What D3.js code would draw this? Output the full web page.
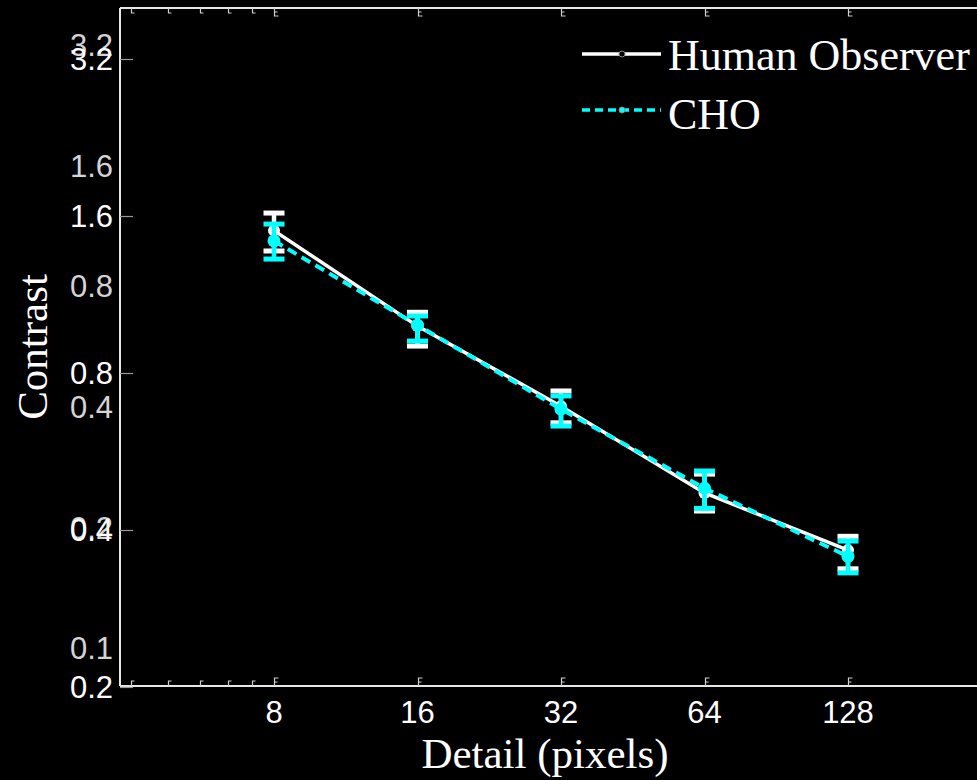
<!DOCTYPE html>
<html>
<head>
<meta charset="utf-8">
<script src="https://cdn.jsdelivr.net/npm/d3@7"></script>
<style>
  html, body { margin: 0; padding: 0; background: #000; }
  svg { display: block; }
</style>
</head>
<body>
<div id="chart"></div>
<script>
// ---- data ----
const detail = [8, 16, 32, 64, 128];
const humanMean = [1.50, 0.984, 0.691, 0.471, 0.366];
const humanLow  = [1.371, 0.901, 0.642, 0.435, 0.337];
const humanHigh = [1.621, 1.046, 0.739, 0.512, 0.389];
const choMean = [1.433, 0.988, 0.682, 0.481, 0.356];
const choLow  = [1.323, 0.921, 0.633, 0.440, 0.331];
const choHigh = [1.544, 1.029, 0.723, 0.519, 0.381];
const yTickValues = [3.2, 1.6, 0.8, 0.4, 0.2];
const yGhostTickValues = [3.2, 1.6, 0.8, 0.4, 0.2, 0.1];
const xTickValues = [8, 16, 32, 64, 128];
const xMinorTickValues = [4, 4.8, 5.6, 6.4, 7.2];
const seriesNames = ["Human Observer", "CHO"];

(function () {
const W = 977, H = 780;
const mLeft = 120, mTop = 8, mBottom = 686, mRight = 990;

const svg = d3.select("#chart").append("svg")
  .attr("width", W).attr("height", H)
  .style("background", "#000");

const x = d3.scaleLog().base(2).domain([8, 128]).range([274, 848]);
const y = d3.scaleLog().base(2).domain([0.2, 3.2]).range([687, 59]);
const yGhost = d3.scaleLog().base(2).domain([0.1, 3.2]).range([648, 45]);

// axes box lines
const axisColor = "#e6e6e6";
svg.append("line").attr("x1", mLeft).attr("x2", mRight).attr("y1", mTop).attr("y2", mTop)
  .attr("stroke", axisColor).attr("stroke-width", 2);
svg.append("line").attr("x1", mLeft).attr("x2", mRight).attr("y1", mBottom).attr("y2", mBottom)
  .attr("stroke", axisColor).attr("stroke-width", 2);
svg.append("line").attr("x1", mLeft).attr("x2", mLeft).attr("y1", mTop).attr("y2", mBottom)
  .attr("stroke", axisColor).attr("stroke-width", 2);

// x ticks (bottom and top), small odd-shaped marks
const tickColor = "#d0d0d0";
const tk = svg.append("g").attr("stroke", tickColor).attr("stroke-width", 1.2).attr("fill", "none");
xMinorTickValues.forEach(v => {
  const px = Math.round(x(v)) + 0.5;
  tk.append("path").attr("d", `M${px},${mBottom} V${mBottom - 5} H${px + 3}`);
  tk.append("path").attr("d", `M${px},${mTop} V${mTop + 5} H${px + 3}`);
});
xTickValues.forEach(v => {
  const px = Math.round(x(v)) + 0.5;
  tk.append("path").attr("d", `M${px},${mBottom} V${mBottom - 8} H${px + 4} M${px},${mBottom - 4} H${px + 3}`);
  tk.append("path").attr("d", `M${px},${mTop} V${mTop + 8} H${px + 4} M${px},${mTop + 4} H${px + 3}`);
});

// y ticks
yTickValues.forEach(v => {
  const py = Math.round(y(v)) + 0.5;
  tk.append("line").attr("x1", mLeft).attr("x2", mLeft + 13).attr("y1", py).attr("y2", py)
    .attr("stroke", "#9a9a9a");
});

// x tick labels
const sansFont = "Arial, 'Liberation Sans', sans-serif";
svg.append("g").selectAll("text").data(xTickValues).join("text")
  .attr("x", d => x(d)).attr("y", 723)
  .attr("text-anchor", "middle")
  .attr("fill", "#fff").attr("font-family", sansFont).attr("font-size", 31)
  .text(d => d);

// ghost y tick labels (second overlaid axis)
svg.append("g").selectAll("text").data(yGhostTickValues).join("text")
  .attr("x", 113).attr("y", d => yGhost(d)).attr("dy", "0.36em")
  .attr("text-anchor", "end")
  .attr("fill", "#d4d4d4").attr("font-family", sansFont).attr("font-size", 31)
  .text(d => d);

// main y tick labels
svg.append("g").selectAll("text").data(yTickValues).join("text")
  .attr("x", 113).attr("y", d => y(d)).attr("dy", "0.36em")
  .attr("text-anchor", "end")
  .attr("fill", "#fff").attr("font-family", sansFont).attr("font-size", 31)
  .text(d => d);

// axis titles
const serifFont = "'Times New Roman', 'Liberation Serif', 'DejaVu Serif', serif";
svg.append("text").attr("x", 545).attr("y", 768).attr("text-anchor", "middle")
  .attr("fill", "#fff").attr("font-family", serifFont).attr("font-size", 43)
  .text("Detail (pixels)");
svg.append("text").attr("transform", "translate(47,347) rotate(-90)").attr("text-anchor", "middle")
  .attr("fill", "#fff").attr("font-family", serifFont).attr("font-size", 43)
  .text("Contrast");

// series
const humanData = detail.map((d, i) => ({x: d, m: humanMean[i], lo: humanLow[i], hi: humanHigh[i]}));
const choData = detail.map((d, i) => ({x: d, m: choMean[i], lo: choLow[i], hi: choHigh[i]}));
const line = d3.line().x(d => x(d.x)).y(d => y(d.m));

function errorBars(data, color) {
  const g = svg.append("g").attr("stroke", color);
  data.forEach(d => {
    const cx = x(d.x);
    g.append("line").attr("x1", cx).attr("x2", cx).attr("y1", y(d.hi)).attr("y2", y(d.lo))
      .attr("stroke-width", 4.5);
    g.append("line").attr("x1", cx - 10.5).attr("x2", cx + 10.5).attr("y1", y(d.hi)).attr("y2", y(d.hi))
      .attr("stroke-width", 5);
    g.append("line").attr("x1", cx - 10.5).attr("x2", cx + 10.5).attr("y1", y(d.lo)).attr("y2", y(d.lo))
      .attr("stroke-width", 5);
  });
}

errorBars(humanData, "#ffffff");
svg.append("path").datum(humanData).attr("d", line)
  .attr("fill", "none").attr("stroke", "#fff").attr("stroke-width", 3.5);
svg.append("g").selectAll("circle").data(humanData).join("circle")
  .attr("cx", d => x(d.x)).attr("cy", d => y(d.m)).attr("r", 6).attr("fill", "#fff");

errorBars(choData, "#00ffff");
svg.append("path").datum(choData).attr("d", line)
  .attr("fill", "none").attr("stroke", "#00ffff").attr("stroke-width", 4)
  .attr("stroke-dasharray", "10,6");
svg.append("g").selectAll("circle").data(choData).join("circle")
  .attr("cx", d => x(d.x)).attr("cy", d => y(d.m)).attr("r", 6.5).attr("fill", "#00ffff");

// legend
const legend = svg.append("g");
const legItems = [
  {name: seriesNames[0], color: "#fff", dash: null, ly: 54, ty: 70},
  {name: seriesNames[1], color: "#00ffff", dash: "8,5", ly: 110, ty: 129}
];
legItems.forEach(it => {
  legend.append("line").attr("x1", 582).attr("x2", 661).attr("y1", it.ly).attr("y2", it.ly)
    .attr("stroke", it.color).attr("stroke-width", 3.5)
    .attr("stroke-dasharray", it.dash);
  legend.append("circle").attr("cx", 622).attr("cy", it.ly).attr("r", 3)
    .attr("fill", it.color === "#fff" ? "#000" : it.color).attr("stroke", "#888").attr("stroke-width", 1);
  legend.append("text").attr("x", 668).attr("y", it.ty)
    .attr("fill", "#fff").attr("font-family", serifFont).attr("font-size", 44)
    .text(it.name);
});
})();
</script>
</body>
</html>
